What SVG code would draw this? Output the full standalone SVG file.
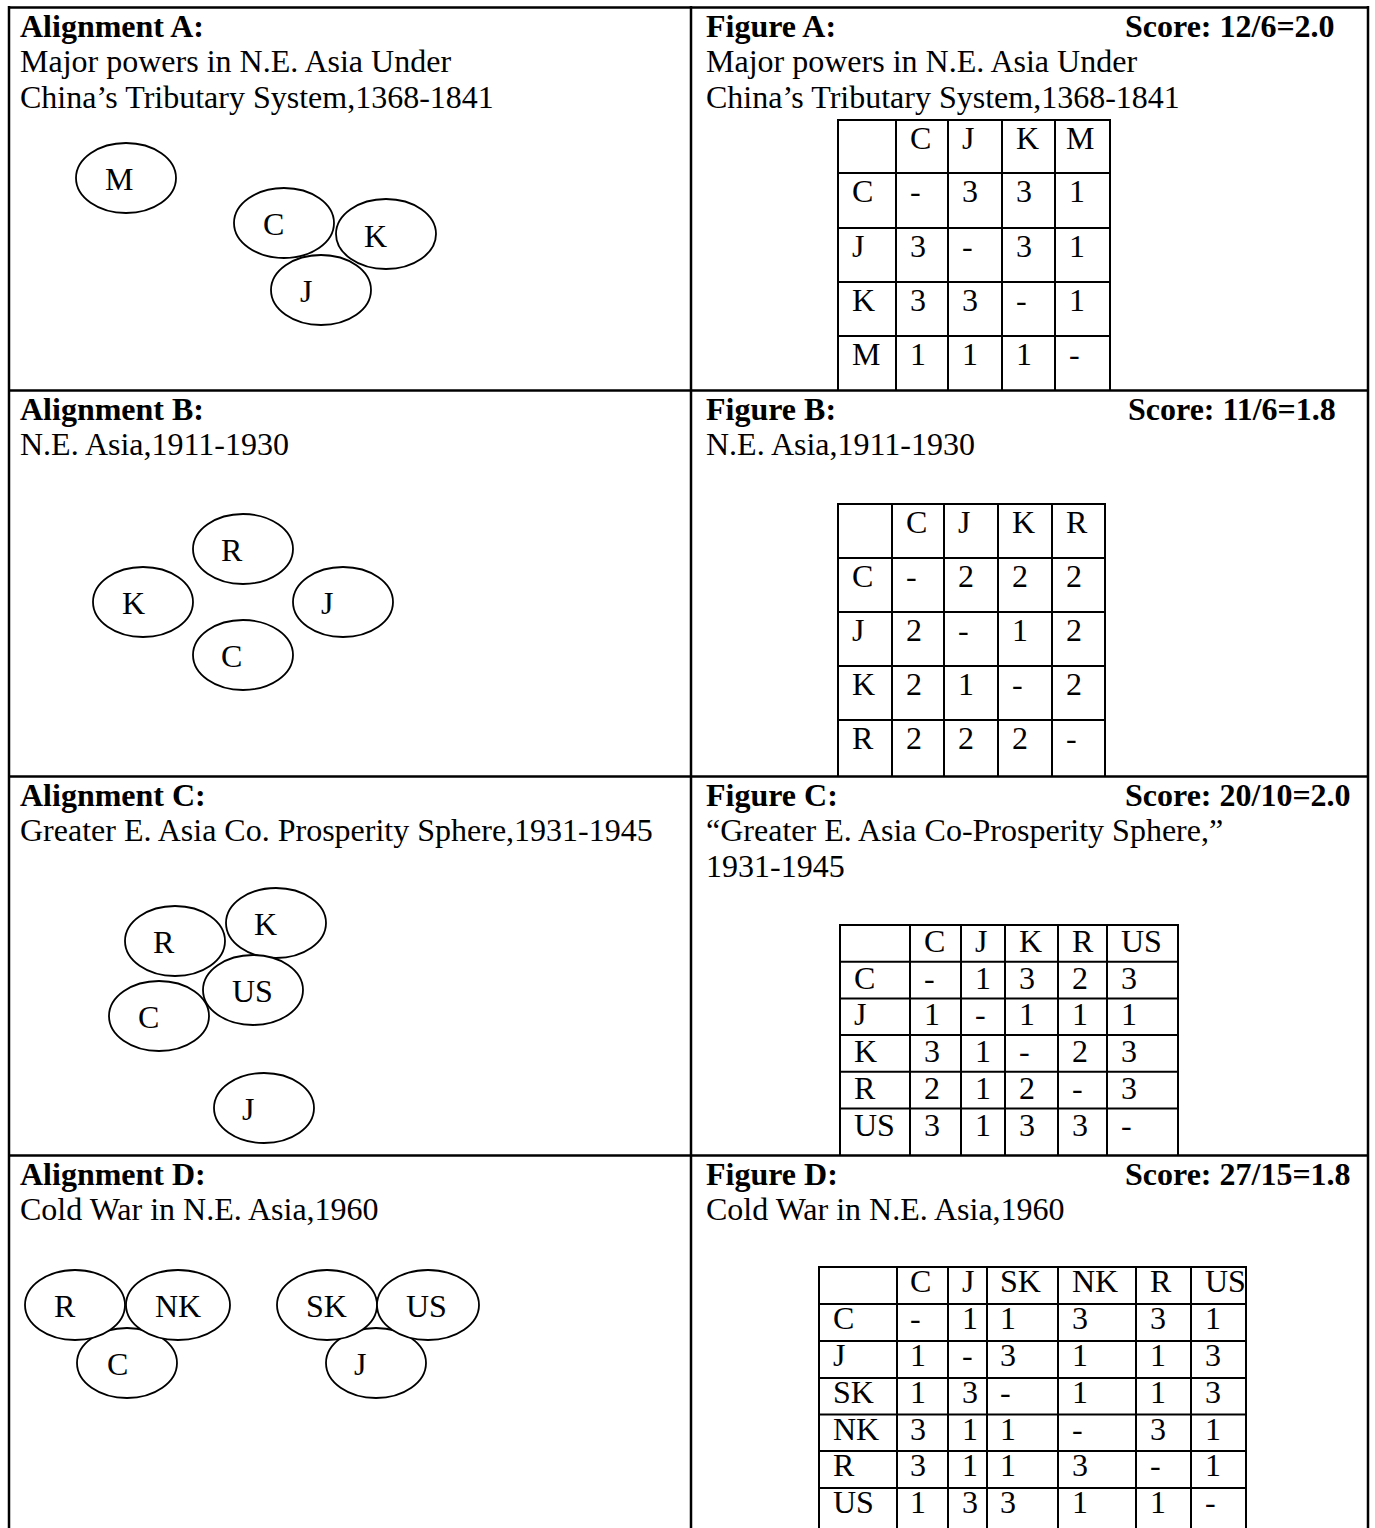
<svg xmlns="http://www.w3.org/2000/svg" width="1375" height="1528" viewBox="0 0 1375 1528">
<style>
text{font-family:"Liberation Serif","Times New Roman",serif;font-size:32px;fill:#000}
.b{font-weight:bold}
.frame{stroke:#000;stroke-width:2.5;fill:none}
.grid line{stroke:#000;stroke-width:2}
.node ellipse{fill:#fff;stroke:#000;stroke-width:1.8}
</style>
<rect width="1375" height="1528" fill="#fff"/>
<g id="frame" class="frame">
<line x1="9" y1="7.5" x2="1368" y2="7.5"/>
<line x1="9" y1="390.5" x2="1368" y2="390.5"/>
<line x1="9" y1="776.5" x2="1368" y2="776.5"/>
<line x1="9" y1="1155.5" x2="1368" y2="1155.5"/>
<line x1="9" y1="6" x2="9" y2="1528"/>
<line x1="691" y1="6" x2="691" y2="1528"/>
<line x1="1368" y1="6" x2="1368" y2="1528"/>
</g>
<g id="headings">
<text class="b" x="20" y="36.5">Alignment A:</text>
<text x="20" y="72">Major powers in N.E. Asia Under</text>
<text x="20" y="107.5">China’s Tributary System,1368-1841</text>
<text class="b" x="706" y="36.5">Figure A:</text>
<text class="b" x="1125" y="36.5">Score: 12/6=2.0</text>
<text x="706" y="72">Major powers in N.E. Asia Under</text>
<text x="706" y="107.5">China’s Tributary System,1368-1841</text>
<text class="b" x="20" y="419.5">Alignment B:</text>
<text x="20" y="455">N.E. Asia,1911-1930</text>
<text class="b" x="706" y="419.5">Figure B:</text>
<text class="b" x="1128" y="419.5">Score: 11/6=1.8</text>
<text x="706" y="455">N.E. Asia,1911-1930</text>
<text class="b" x="20" y="805.5">Alignment C:</text>
<text x="20" y="841">Greater E. Asia Co. Prosperity Sphere,1931-1945</text>
<text class="b" x="706" y="805.5">Figure C:</text>
<text class="b" x="1125" y="805.5">Score: 20/10=2.0</text>
<text x="706" y="841">“Greater E. Asia Co-Prosperity Sphere,”</text>
<text x="706" y="876.5">1931-1945</text>
<text class="b" x="20" y="1184.5">Alignment D:</text>
<text x="20" y="1220">Cold War in N.E. Asia,1960</text>
<text class="b" x="706" y="1184.5">Figure D:</text>
<text class="b" x="1125" y="1184.5">Score: 27/15=1.8</text>
<text x="706" y="1220">Cold War in N.E. Asia,1960</text>
</g>
<g id="alignment-a">
<g id="a-M" class="node"><ellipse cx="126" cy="178" rx="50" ry="35"/><text x="105" y="190">M</text></g>
<g id="a-C" class="node"><ellipse cx="284" cy="223" rx="50" ry="35"/><text x="263" y="235">C</text></g>
<g id="a-K" class="node"><ellipse cx="386" cy="234" rx="50" ry="35"/><text x="364" y="247">K</text></g>
<g id="a-J" class="node"><ellipse cx="321" cy="290" rx="50" ry="35"/><text x="300" y="302">J</text></g>
</g>
<g id="alignment-b">
<g id="b-R" class="node"><ellipse cx="243" cy="549" rx="50" ry="35"/><text x="221" y="561">R</text></g>
<g id="b-K" class="node"><ellipse cx="143" cy="602" rx="50" ry="35"/><text x="122" y="614">K</text></g>
<g id="b-J" class="node"><ellipse cx="343" cy="602" rx="50" ry="35"/><text x="321" y="614">J</text></g>
<g id="b-C" class="node"><ellipse cx="243" cy="655" rx="50" ry="35"/><text x="221" y="667">C</text></g>
</g>
<g id="alignment-c">
<g id="c-R" class="node"><ellipse cx="175" cy="941" rx="50" ry="35"/><text x="153" y="953">R</text></g>
<g id="c-K" class="node"><ellipse cx="276" cy="923" rx="50" ry="35"/><text x="254" y="935">K</text></g>
<g id="c-C" class="node"><ellipse cx="159" cy="1016" rx="50" ry="35"/><text x="138" y="1028">C</text></g>
<g id="c-US" class="node"><ellipse cx="253" cy="990" rx="50" ry="35"/><text x="232" y="1002">US</text></g>
<g id="c-J" class="node"><ellipse cx="264" cy="1108" rx="50" ry="35"/><text x="242" y="1120">J</text></g>
</g>
<g id="alignment-d">
<g id="d-C" class="node"><ellipse cx="127" cy="1363" rx="50" ry="35"/><text x="107" y="1375">C</text></g>
<g id="d-R" class="node"><ellipse cx="75" cy="1305" rx="50" ry="35"/><text x="54" y="1317">R</text></g>
<g id="d-NK" class="node"><ellipse cx="178" cy="1305" rx="52" ry="35"/><text x="155" y="1317">NK</text></g>
<g id="d-J" class="node"><ellipse cx="376" cy="1363" rx="50" ry="35"/><text x="354" y="1375">J</text></g>
<g id="d-SK" class="node"><ellipse cx="327" cy="1305" rx="50" ry="35"/><text x="306" y="1317">SK</text></g>
<g id="d-US" class="node"><ellipse cx="428" cy="1305" rx="51" ry="35"/><text x="406" y="1317">US</text></g>
</g>
<g id="connectors"></g>
<g id="table-a" class="grid">
<line x1="838" y1="120" x2="838" y2="390"/><line x1="896" y1="120" x2="896" y2="390"/><line x1="948" y1="120" x2="948" y2="390"/><line x1="1002" y1="120" x2="1002" y2="390"/><line x1="1055" y1="120" x2="1055" y2="390"/><line x1="1110" y1="120" x2="1110" y2="390"/>
<line x1="837" y1="120" x2="1111" y2="120"/><line x1="837" y1="173" x2="1111" y2="173"/><line x1="837" y1="228" x2="1111" y2="228"/><line x1="837" y1="282" x2="1111" y2="282"/><line x1="837" y1="336" x2="1111" y2="336"/>
<text x="910" y="148.5">C</text><text x="962" y="148.5">J</text><text x="1016" y="148.5">K</text><text x="1066" y="148.5">M</text>
<text x="852" y="201.5">C</text><text x="910" y="201.5">-</text><text x="962" y="201.5">3</text><text x="1016" y="201.5">3</text><text x="1069" y="201.5">1</text>
<text x="852" y="256.5">J</text><text x="910" y="256.5">3</text><text x="962" y="256.5">-</text><text x="1016" y="256.5">3</text><text x="1069" y="256.5">1</text>
<text x="852" y="310.5">K</text><text x="910" y="310.5">3</text><text x="962" y="310.5">3</text><text x="1016" y="310.5">-</text><text x="1069" y="310.5">1</text>
<text x="852" y="364.5">M</text><text x="910" y="364.5">1</text><text x="962" y="364.5">1</text><text x="1016" y="364.5">1</text><text x="1069" y="364.5">-</text>
</g>
<g id="table-b" class="grid">
<line x1="838" y1="504" x2="838" y2="776"/><line x1="892" y1="504" x2="892" y2="776"/><line x1="944" y1="504" x2="944" y2="776"/><line x1="998" y1="504" x2="998" y2="776"/><line x1="1052" y1="504" x2="1052" y2="776"/><line x1="1105" y1="504" x2="1105" y2="776"/>
<line x1="837" y1="504" x2="1106" y2="504"/><line x1="837" y1="558" x2="1106" y2="558"/><line x1="837" y1="612" x2="1106" y2="612"/><line x1="837" y1="666" x2="1106" y2="666"/><line x1="837" y1="720" x2="1106" y2="720"/>
<text x="906" y="532.5">C</text><text x="958" y="532.5">J</text><text x="1012" y="532.5">K</text><text x="1066" y="532.5">R</text>
<text x="852" y="586.5">C</text><text x="906" y="586.5">-</text><text x="958" y="586.5">2</text><text x="1012" y="586.5">2</text><text x="1066" y="586.5">2</text>
<text x="852" y="640.5">J</text><text x="906" y="640.5">2</text><text x="958" y="640.5">-</text><text x="1012" y="640.5">1</text><text x="1066" y="640.5">2</text>
<text x="852" y="694.5">K</text><text x="906" y="694.5">2</text><text x="958" y="694.5">1</text><text x="1012" y="694.5">-</text><text x="1066" y="694.5">2</text>
<text x="852" y="748.5">R</text><text x="906" y="748.5">2</text><text x="958" y="748.5">2</text><text x="1012" y="748.5">2</text><text x="1066" y="748.5">-</text>
</g>
<g id="table-c" class="grid">
<line x1="840" y1="925" x2="840" y2="1155"/><line x1="910" y1="925" x2="910" y2="1155"/><line x1="961" y1="925" x2="961" y2="1155"/><line x1="1005" y1="925" x2="1005" y2="1155"/><line x1="1058" y1="925" x2="1058" y2="1155"/><line x1="1107" y1="925" x2="1107" y2="1155"/><line x1="1178" y1="925" x2="1178" y2="1155"/>
<line x1="839" y1="925" x2="1179" y2="925"/><line x1="839" y1="961.7" x2="1179" y2="961.7"/><line x1="839" y1="998.4" x2="1179" y2="998.4"/><line x1="839" y1="1035.1" x2="1179" y2="1035.1"/><line x1="839" y1="1071.8" x2="1179" y2="1071.8"/><line x1="839" y1="1108.5" x2="1179" y2="1108.5"/>
<text x="924" y="952">C</text><text x="975" y="952">J</text><text x="1019" y="952">K</text><text x="1072" y="952">R</text><text x="1121" y="952">US</text>
<text x="854" y="988.7">C</text><text x="924" y="988.7">-</text><text x="975" y="988.7">1</text><text x="1019" y="988.7">3</text><text x="1072" y="988.7">2</text><text x="1121" y="988.7">3</text>
<text x="854" y="1025.4">J</text><text x="924" y="1025.4">1</text><text x="975" y="1025.4">-</text><text x="1019" y="1025.4">1</text><text x="1072" y="1025.4">1</text><text x="1121" y="1025.4">1</text>
<text x="854" y="1062.1">K</text><text x="924" y="1062.1">3</text><text x="975" y="1062.1">1</text><text x="1019" y="1062.1">-</text><text x="1072" y="1062.1">2</text><text x="1121" y="1062.1">3</text>
<text x="854" y="1098.8">R</text><text x="924" y="1098.8">2</text><text x="975" y="1098.8">1</text><text x="1019" y="1098.8">2</text><text x="1072" y="1098.8">-</text><text x="1121" y="1098.8">3</text>
<text x="854" y="1135.5">US</text><text x="924" y="1135.5">3</text><text x="975" y="1135.5">1</text><text x="1019" y="1135.5">3</text><text x="1072" y="1135.5">3</text><text x="1121" y="1135.5">-</text>
</g>
<g id="table-d" class="grid">
<line x1="819" y1="1267" x2="819" y2="1528"/><line x1="897" y1="1267" x2="897" y2="1528"/><line x1="948" y1="1267" x2="948" y2="1528"/><line x1="987" y1="1267" x2="987" y2="1528"/><line x1="1058" y1="1267" x2="1058" y2="1528"/><line x1="1136" y1="1267" x2="1136" y2="1528"/><line x1="1191" y1="1267" x2="1191" y2="1528"/><line x1="1246" y1="1267" x2="1246" y2="1528"/>
<line x1="818" y1="1267" x2="1247" y2="1267"/><line x1="818" y1="1304" x2="1247" y2="1304"/><line x1="818" y1="1341" x2="1247" y2="1341"/><line x1="818" y1="1378" x2="1247" y2="1378"/><line x1="818" y1="1414.5" x2="1247" y2="1414.5"/><line x1="818" y1="1451" x2="1247" y2="1451"/><line x1="818" y1="1488" x2="1247" y2="1488"/>
<text x="910" y="1292">C</text><text x="962" y="1292">J</text><text x="1000" y="1292">SK</text><text x="1072" y="1292">NK</text><text x="1150" y="1292">R</text><text x="1205" y="1292">US</text>
<text x="833" y="1329">C</text><text x="910" y="1329">-</text><text x="962" y="1329">1</text><text x="1000" y="1329">1</text><text x="1072" y="1329">3</text><text x="1150" y="1329">3</text><text x="1205" y="1329">1</text>
<text x="833" y="1366">J</text><text x="910" y="1366">1</text><text x="962" y="1366">-</text><text x="1000" y="1366">3</text><text x="1072" y="1366">1</text><text x="1150" y="1366">1</text><text x="1205" y="1366">3</text>
<text x="833" y="1403">SK</text><text x="910" y="1403">1</text><text x="962" y="1403">3</text><text x="1000" y="1403">-</text><text x="1072" y="1403">1</text><text x="1150" y="1403">1</text><text x="1205" y="1403">3</text>
<text x="833" y="1439.5">NK</text><text x="910" y="1439.5">3</text><text x="962" y="1439.5">1</text><text x="1000" y="1439.5">1</text><text x="1072" y="1439.5">-</text><text x="1150" y="1439.5">3</text><text x="1205" y="1439.5">1</text>
<text x="833" y="1476">R</text><text x="910" y="1476">3</text><text x="962" y="1476">1</text><text x="1000" y="1476">1</text><text x="1072" y="1476">3</text><text x="1150" y="1476">-</text><text x="1205" y="1476">1</text>
<text x="833" y="1513">US</text><text x="910" y="1513">1</text><text x="962" y="1513">3</text><text x="1000" y="1513">3</text><text x="1072" y="1513">1</text><text x="1150" y="1513">1</text><text x="1205" y="1513">-</text>
</g>
</svg>
